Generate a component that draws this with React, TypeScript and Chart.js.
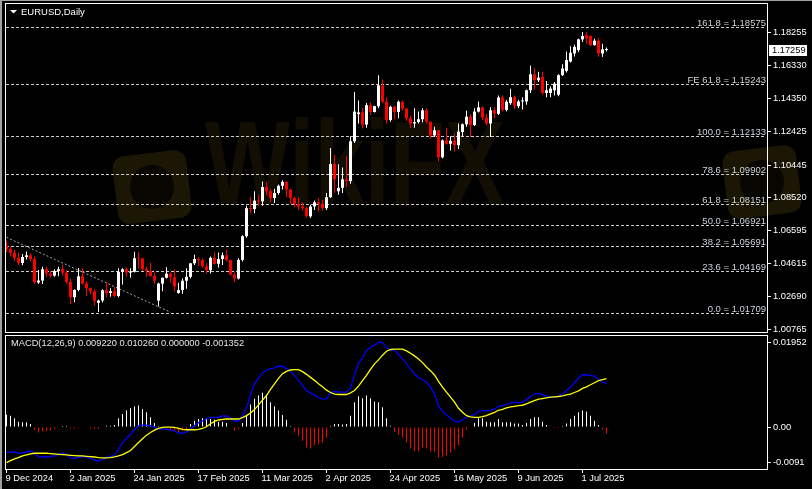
import React, { useEffect, useRef } from 'react';
import { Chart, registerables } from 'chart.js';

Chart.register(...registerables);

const FONT = "'Liberation Sans', Arial, sans-serif";

const SYMBOL = 'EURUSD';
const PERIOD = 'Daily';

const X_LABELS = ['9 Dec 2024', '2 Jan 2025', '24 Jan 2025', '17 Feb 2025', '11 Mar 2025', '2 Apr 2025', '24 Apr 2025', '16 May 2025', '9 Jun 2025', '1 Jul 2025'];
const X_LABEL_BARS = [0, 16, 32, 48, 64, 80, 96, 112, 128, 144];

const OPEN = [
  1.0568, 1.0550, 1.0527, 1.0497, 1.0467, 1.0502, 1.0512, 1.0490, 1.0352, 1.0363,
  1.0430, 1.0405, 1.0392, 1.0420, 1.0430, 1.0410, 1.0355, 1.0265, 1.0308, 1.0388,
  1.0345, 1.0318, 1.0300, 1.0232, 1.0245, 1.0306, 1.0290, 1.0300, 1.0272, 1.0415,
  1.0430, 1.0410, 1.0415, 1.0500, 1.0494, 1.0430, 1.0420, 1.0390, 1.0245, 1.0345,
  1.0380, 1.0404, 1.0383, 1.0290, 1.0307, 1.0362, 1.0385, 1.0465, 1.0490, 1.0483,
  1.0447, 1.0424, 1.0497, 1.0462, 1.0490, 1.0512, 1.0485, 1.0398, 1.0375, 1.0485,
  1.0625, 1.0790, 1.0785, 1.0835, 1.0830, 1.0915, 1.0890, 1.0850, 1.0880, 1.0922,
  1.0945, 1.0900, 1.0850, 1.0815, 1.0800, 1.0790, 1.0742, 1.0800, 1.0825, 1.0815,
  1.0790, 1.0855, 1.1050, 1.0890, 1.0910, 1.0960, 1.0950, 1.1185, 1.1345, 1.1355,
  1.1283, 1.1398, 1.1358, 1.1392, 1.1515, 1.1418, 1.1310, 1.1390, 1.1358, 1.1418,
  1.1378, 1.1320, 1.1290, 1.1298, 1.1315, 1.1368, 1.1300, 1.1220, 1.1250, 1.1090,
  1.1190, 1.1170, 1.1188, 1.1162, 1.1240, 1.1285, 1.1330, 1.1280, 1.1360, 1.1385,
  1.1325, 1.1290, 1.1368, 1.1347, 1.1443, 1.1370, 1.1410, 1.1445, 1.1392, 1.1420,
  1.1420, 1.1486, 1.1580, 1.1545, 1.1565, 1.1470, 1.1470, 1.1486, 1.1460, 1.1575,
  1.1600, 1.1655, 1.1703, 1.1723, 1.1786, 1.1811, 1.1806, 1.1752, 1.1778, 1.1703,
  1.1723,
];
const HIGH = [
  1.0600, 1.0563, 1.0545, 1.0528, 1.0520, 1.0535, 1.0525, 1.0505, 1.0425, 1.0445,
  1.0445, 1.0418, 1.0430, 1.0445, 1.0458, 1.0425, 1.0375, 1.0310, 1.0437, 1.0437,
  1.0360, 1.0322, 1.0312, 1.0250, 1.0312, 1.0353, 1.0318, 1.0323, 1.0435, 1.0435,
  1.0440, 1.0435, 1.0533, 1.0533, 1.0495, 1.0445, 1.0468, 1.0410, 1.0350, 1.0380,
  1.0442, 1.0410, 1.0430, 1.0350, 1.0375, 1.0435, 1.0465, 1.0515, 1.0500, 1.0495,
  1.0465, 1.0505, 1.0528, 1.0528, 1.0528, 1.0545, 1.0485, 1.0410, 1.0495, 1.0630,
  1.0805, 1.0855, 1.0890, 1.0870, 1.0947, 1.0945, 1.0905, 1.0905, 1.0930, 1.0955,
  1.0950, 1.0905, 1.0860, 1.0855, 1.0825, 1.0800, 1.0810, 1.0835, 1.0850, 1.0840,
  1.0880, 1.1145, 1.1105, 1.1050, 1.1030, 1.1100, 1.1215, 1.1475, 1.1425, 1.1383,
  1.1410, 1.1415, 1.1395, 1.1575, 1.1550, 1.1445, 1.1395, 1.1395, 1.1425, 1.1425,
  1.1380, 1.1335, 1.1380, 1.1360, 1.1380, 1.1380, 1.1300, 1.1270, 1.1250, 1.1195,
  1.1265, 1.1215, 1.1230, 1.1290, 1.1290, 1.1365, 1.1345, 1.1380, 1.1420, 1.1390,
  1.1345, 1.1385, 1.1385, 1.1455, 1.1455, 1.1430, 1.1495, 1.1455, 1.1430, 1.1445,
  1.1490, 1.1632, 1.1615, 1.1595, 1.1595, 1.1540, 1.1510, 1.1535, 1.1580, 1.1640,
  1.1715, 1.1745, 1.1755, 1.1790, 1.1830, 1.1830, 1.1810, 1.1790, 1.1795, 1.1760,
  1.1738,
];
const LOW = [
  1.0530, 1.0505, 1.0480, 1.0455, 1.0453, 1.0487, 1.0477, 1.0343, 1.0343, 1.0343,
  1.0385, 1.0380, 1.0385, 1.0388, 1.0395, 1.0345, 1.0225, 1.0235, 1.0300, 1.0340,
  1.0272, 1.0282, 1.0215, 1.0178, 1.0234, 1.0265, 1.0267, 1.0265, 1.0265, 1.0340,
  1.0385, 1.0380, 1.0410, 1.0435, 1.0420, 1.0385, 1.0385, 1.0345, 1.0210, 1.0300,
  1.0375, 1.0350, 1.0300, 1.0285, 1.0285, 1.0315, 1.0375, 1.0455, 1.0450, 1.0440,
  1.0405, 1.0405, 1.0460, 1.0440, 1.0455, 1.0475, 1.0395, 1.0355, 1.0370, 1.0475,
  1.0615, 1.0760, 1.0760, 1.0805, 1.0805, 1.0865, 1.0825, 1.0820, 1.0870, 1.0900,
  1.0855, 1.0815, 1.0795, 1.0780, 1.0775, 1.0735, 1.0732, 1.0780, 1.0770, 1.0775,
  1.0780, 1.0850, 1.0880, 1.0870, 1.0880, 1.0915, 1.0935, 1.1175, 1.1290, 1.1260,
  1.1265, 1.1340, 1.1355, 1.1380, 1.1410, 1.1290, 1.1300, 1.1315, 1.1320, 1.1365,
  1.1305, 1.1265, 1.1265, 1.1290, 1.1295, 1.1290, 1.1200, 1.1210, 1.1065, 1.1085,
  1.1165, 1.1130, 1.1125, 1.1140, 1.1210, 1.1270, 1.1210, 1.1275, 1.1355, 1.1310,
  1.1280, 1.1210, 1.1320, 1.1340, 1.1360, 1.1360, 1.1400, 1.1375, 1.1380, 1.1372,
  1.1400, 1.1470, 1.1490, 1.1535, 1.1460, 1.1445, 1.1445, 1.1455, 1.1450, 1.1570,
  1.1590, 1.1650, 1.1685, 1.1710, 1.1770, 1.1760, 1.1745, 1.1750, 1.1684, 1.1682,
  1.1714,
];
const CLOSE = [
  1.0550, 1.0527, 1.0497, 1.0467, 1.0502, 1.0512, 1.0490, 1.0352, 1.0363, 1.0430,
  1.0405, 1.0392, 1.0420, 1.0430, 1.0410, 1.0355, 1.0265, 1.0308, 1.0388, 1.0345,
  1.0318, 1.0300, 1.0243, 1.0245, 1.0306, 1.0290, 1.0300, 1.0272, 1.0415, 1.0430,
  1.0410, 1.0415, 1.0495, 1.0494, 1.0430, 1.0420, 1.0390, 1.0362, 1.0345, 1.0380,
  1.0404, 1.0383, 1.0328, 1.0307, 1.0362, 1.0385, 1.0465, 1.0490, 1.0483, 1.0447,
  1.0424, 1.0497, 1.0460, 1.0490, 1.0512, 1.0485, 1.0398, 1.0375, 1.0485, 1.0625,
  1.0790, 1.0785, 1.0835, 1.0830, 1.0915, 1.0890, 1.0850, 1.0880, 1.0922, 1.0945,
  1.0900, 1.0850, 1.0815, 1.0800, 1.0790, 1.0742, 1.0800, 1.0825, 1.0815, 1.0790,
  1.0855, 1.1050, 1.0960, 1.0910, 1.0960, 1.0950, 1.1185, 1.1360, 1.1355, 1.1283,
  1.1398, 1.1358, 1.1392, 1.1515, 1.1418, 1.1310, 1.1388, 1.1358, 1.1418, 1.1378,
  1.1320, 1.1290, 1.1298, 1.1315, 1.1368, 1.1300, 1.1220, 1.1250, 1.1090, 1.1190,
  1.1170, 1.1188, 1.1162, 1.1242, 1.1285, 1.1330, 1.1280, 1.1360, 1.1385, 1.1325,
  1.1290, 1.1368, 1.1347, 1.1443, 1.1370, 1.1418, 1.1445, 1.1395, 1.1420, 1.1422,
  1.1486, 1.1580, 1.1545, 1.1560, 1.1470, 1.1486, 1.1496, 1.1525, 1.1575, 1.1614,
  1.1664, 1.1707, 1.1742, 1.1786, 1.1806, 1.1792, 1.1752, 1.1778, 1.1703, 1.1727,
  1.17259,
];

const PRICE_TICKS = [1.18255, 1.1633, 1.1435, 1.12425, 1.10445, 1.0852, 1.06595, 1.04615, 1.0269, 1.00765];
const PRICE_MIN = 1.00537;
const PRICE_MAX = 1.20007;
const BAR_MIN = -0.375;
const BAR_MAX = 190.375;

const FIB_NAMES = ['161.8', 'FE 61.8', '100.0', '78.6', '61.8', '50.0', '38.2', '23.6', '0.0'];
const FIB_LEVELS = [1.18575, 1.15243, 1.12133, 1.09902, 1.08151, 1.06921, 1.05691, 1.04169, 1.01709];

const TREND_BARS = [0, 41];
const TREND_PRICES = [1.0618, 1.0176];

const MACD_MAIN = [
  -0.00541, -0.00527, -0.00534, -0.00555, -0.00548, -0.00527, -0.00506, -0.00562, -0.00627, -0.00634,
  -0.00634, -0.00627, -0.00612, -0.00577, -0.00555, -0.00584, -0.00655, -0.00662, -0.00641, -0.00627,
  -0.00634, -0.00662, -0.00698, -0.00719, -0.00684, -0.00641, -0.0062, -0.00598, -0.0047, -0.00328,
  -0.00242, -0.00157, -0.00057, 0.00028, 0.00043, 0.00043, 0.00028, 0.0, -0.00036, -0.00043,
  -0.00043, -0.00057, -0.00085, -0.00128, -0.00128, -0.001, -0.00043, 0.00028, 0.00093, 0.00128,
  0.00185, 0.00199, 0.00206, 0.00206, 0.00235, 0.00235, 0.00185, 0.00128, 0.00128, 0.00242,
  0.00413, 0.00684, 0.00918, 0.0104, 0.01153, 0.0121, 0.01232, 0.01253, 0.01289, 0.01289,
  0.01246, 0.01182, 0.01096, 0.0099, 0.00883, 0.00776, 0.00719, 0.00676, 0.00627, 0.00591,
  0.00598, 0.00726, 0.00755, 0.0074, 0.0074, 0.0074, 0.00826, 0.01111, 0.01346, 0.01474,
  0.01623, 0.01687, 0.01737, 0.01794, 0.01794, 0.0168, 0.01638, 0.0163, 0.01538, 0.01452,
  0.01346, 0.01232, 0.01125, 0.01047, 0.01004, 0.00954, 0.00847, 0.00705, 0.00441, 0.00342,
  0.00256, 0.00192, 0.00128, 0.00107, 0.00157, 0.00206, 0.00235, 0.00263, 0.00335, 0.00349,
  0.00349, 0.00356, 0.00384, 0.00441, 0.00456, 0.00484, 0.00513, 0.00527, 0.00513, 0.00527,
  0.00577, 0.00648, 0.00705, 0.00712, 0.00684, 0.00655, 0.00634, 0.00634, 0.00655, 0.00698,
  0.00776, 0.00847, 0.0094, 0.0104, 0.01111, 0.01104, 0.01096, 0.01082, 0.01011, 0.00954,
  0.00922,
];
const MACD_SIGNAL = [
  -0.00755, -0.00712, -0.00676, -0.00648, -0.00612, -0.00591, -0.0057, -0.00555, -0.00555, -0.00555,
  -0.00555, -0.00562, -0.0057, -0.00577, -0.00584, -0.00591, -0.00598, -0.00605, -0.00612, -0.00612,
  -0.0062, -0.00627, -0.00634, -0.00648, -0.00655, -0.00655, -0.00648, -0.00634, -0.00612, -0.00584,
  -0.00541, -0.00498, -0.00413, -0.00328, -0.00249, -0.00171, -0.00114, -0.00064, -0.00028, -0.00007,
  0.0, 0.0, -0.00007, -0.00028, -0.0005, -0.00057, -0.00057, -0.00057, -0.0005, -0.0003,
  0.00007, 0.00071, 0.00121, 0.0015, 0.00164, 0.00171, 0.00171, 0.00171, 0.00171, 0.00199,
  0.00242, 0.00299, 0.0037, 0.0047, 0.0057, 0.00669, 0.00797, 0.00918, 0.01032, 0.01132,
  0.01182, 0.0121, 0.01218, 0.01218, 0.01175, 0.01118, 0.01054, 0.0099, 0.00918, 0.00854,
  0.00783, 0.00733, 0.00698, 0.00691, 0.00691, 0.00691, 0.00726, 0.00776, 0.00869, 0.00983,
  0.01096, 0.01225, 0.01339, 0.01424, 0.01524, 0.01609, 0.01645, 0.01652, 0.01652, 0.01652,
  0.01616, 0.01566, 0.01509, 0.01445, 0.01367, 0.01274, 0.01196, 0.01104, 0.00968, 0.00847,
  0.0074, 0.00634, 0.00527, 0.00399, 0.00313, 0.00242, 0.00214, 0.00206, 0.00206, 0.00221,
  0.00242, 0.00278, 0.00313, 0.00356, 0.00377, 0.00406, 0.00427, 0.00441, 0.00456, 0.00463,
  0.00491, 0.00527, 0.00562, 0.00591, 0.00605, 0.00619, 0.00634, 0.00641, 0.00648, 0.00662,
  0.00684, 0.00698, 0.00733, 0.00769, 0.00819, 0.00854, 0.00897, 0.0094, 0.00983, 0.01004,
  0.01026,
];
const MACD_HIST = [
  0.00263, 0.00242, 0.00185, 0.00114, 0.001, 0.001, 0.00064, -0.00057, -0.00114, -0.00093,
  -0.00078, -0.00071, -0.00043, 0.0, 0.00014, 0.00014, -0.00028, -0.00028, -0.00014, 0.0,
  0.0, -0.00028, -0.00043, -0.00043, 0.0, 0.00028, 0.00028, 0.00043, 0.00185, 0.00278,
  0.00349, 0.00399, 0.00441, 0.00456, 0.00384, 0.00313, 0.00206, 0.00085, 0.00014, -0.00028,
  -0.00036, -0.00057, -0.00078, -0.00114, -0.00078, -0.00043, 0.00064, 0.00135, 0.00171, 0.00185,
  0.00171, 0.00171, 0.00157, 0.00114, 0.00114, 0.00085, 0.0, -0.00078, -0.00043, 0.00085,
  0.00242, 0.00477, 0.00598, 0.00669, 0.00726, 0.00691, 0.00527, 0.00441, 0.00349, 0.00256,
  0.00157, 0.00014, -0.00114, -0.00185, -0.00292, -0.00434, -0.00456, -0.00384, -0.00363, -0.00328,
  -0.00221, 0.00014, 0.00064, 0.00064, 0.00057, 0.00064, 0.00242, 0.00527, 0.00655, 0.00612,
  0.00669, 0.00612, 0.00541, 0.00527, 0.0042, 0.00185, 0.00028, -0.001, -0.00164, -0.00221,
  -0.00328, -0.00449, -0.00506, -0.00506, -0.00434, -0.00456, -0.0052, -0.00527, -0.00648, -0.00627,
  -0.00598, -0.00541, -0.0047, -0.00384, -0.00221, -0.00057, 0.0, 0.00085, 0.00185, 0.00185,
  0.00114, 0.001, 0.001, 0.00171, 0.001, 0.001, 0.001, 0.00078, 0.00078, 0.00043,
  0.00085, 0.00171, 0.00206, 0.00206, 0.00114, 0.00043, 0.0, -0.00014, -0.00014, 0.00014,
  0.00078, 0.00171, 0.00242, 0.00313, 0.00349, 0.00328, 0.00242, 0.00135, 0.00043, -0.00057,
  -0.001352,
];
const MACD_PARAMS = '12,26,9';
const MACD_MIN = -0.0091;
const MACD_MAX = 0.01952;
const MACD_TICKS = [0.01952, 0, -0.0091];
const MACD_TICK_LABELS = ['0.01952', '0.00', '-0.0091'];

const BULL = '#ffffff';
const BEAR = '#ff0000';

const candleColors = CLOSE.map((c, i) => (c >= OPEN[i] ? BULL : BEAR));

const noPad = (s: any) => {
  s.paddingTop = 0;
  s.paddingBottom = 0;
  s.paddingLeft = 0;
  s.paddingRight = 0;
};

const framePlugin = {
  id: 'frame',
  afterDraw(chart: any) {
    const { ctx, chartArea: a } = chart;
    ctx.save();
    ctx.strokeStyle = '#ffffff';
    ctx.lineWidth = 1;
    ctx.setLineDash([]);
    ctx.strokeRect(a.left + 0.5, a.top + 0.5, a.right - a.left - 1, a.bottom - a.top - 1);
    ctx.restore();
  },
};

const watermarkPlugin = {
  id: 'watermark',
  beforeDraw(chart: any) {
    const ctx = chart.ctx as CanvasRenderingContext2D;
    ctx.save();
    const logo = (cx: number, cy: number) => {
      ctx.save();
      ctx.translate(cx, cy);
      ctx.rotate(-0.12);
      ctx.fillStyle = '#1c1705';
      ctx.beginPath();
      (ctx as any).roundRect(-37, -34, 74, 68, 12);
      ctx.fill();
      ctx.fillStyle = '#080601';
      ctx.beginPath();
      ctx.arc(0, 0, 22, 0, Math.PI * 2);
      ctx.fill();
      ctx.restore();
    };
    logo(152, 187);
    logo(762, 182);
    ctx.font = `bold 120px ${FONT}`;
    const w = ctx.measureText('WikiFX').width;
    ctx.translate(205, 205);
    ctx.scale(300 / w, 1);
    ctx.fillStyle = '#120e03';
    ctx.textBaseline = 'alphabetic';
    ctx.fillText('WikiFX', 0, 0);
    ctx.restore();
  },
};

const fibPlugin = {
  id: 'fibo',
  beforeDatasetsDraw(chart: any) {
    const { ctx, chartArea: a, scales } = chart;
    const y = scales.y;
    ctx.save();
    ctx.lineWidth = 1;
    ctx.font = `9.5px ${FONT}`;
    ctx.textAlign = 'right';
    ctx.textBaseline = 'alphabetic';
    FIB_LEVELS.forEach((lv, k) => {
      const py = Math.round(y.getPixelForValue(lv)) + 0.5;
      ctx.strokeStyle = '#cccccc';
      ctx.setLineDash([3, 2]);
      ctx.beginPath();
      ctx.moveTo(a.left + 1, py);
      ctx.lineTo(a.right - 2, py);
      ctx.stroke();
      ctx.fillStyle = '#ccd3da';
      ctx.fillText(`${FIB_NAMES[k]} = ${lv.toFixed(5)}`, a.right - 2, py - 2);
    });
    ctx.restore();
  },
};

const mainOverlayPlugin = {
  id: 'mainOverlay',
  afterDraw(chart: any) {
    const { ctx, chartArea: a, scales } = chart;
    ctx.save();
    ctx.fillStyle = '#ffffff';
    ctx.beginPath();
    ctx.moveTo(10, 10);
    ctx.lineTo(17, 10);
    ctx.lineTo(13.5, 13.5);
    ctx.closePath();
    ctx.fill();
    ctx.font = `9.5px ${FONT}`;
    ctx.textAlign = 'left';
    ctx.textBaseline = 'middle';
    ctx.fillText(`${SYMBOL},${PERIOD}`, 21, 12);
    const last = CLOSE[CLOSE.length - 1];
    const py = Math.round(scales.y.getPixelForValue(last));
    ctx.fillStyle = '#ffffff';
    ctx.fillRect(a.right + 1, py - 5, 38, 11);
    ctx.fillStyle = '#000000';
    ctx.font = `9.3px ${FONT}`;
    ctx.fillText(last.toFixed(5), a.right + 4, py + 0.5);
    ctx.restore();
  },
};

const macdTitlePlugin = {
  id: 'macdTitle',
  afterDraw(chart: any) {
    const ctx = chart.ctx;
    const n = MACD_MAIN.length - 1;
    const h = MACD_HIST[n];
    const txt = `MACD(${MACD_PARAMS}) ${MACD_MAIN[n].toFixed(6)} ${MACD_SIGNAL[n].toFixed(6)} ${Math.max(h, 0).toFixed(6)} ${Math.min(h, 0).toFixed(6)}`;
    ctx.save();
    ctx.fillStyle = '#e4e8ec';
    ctx.font = `9.3px ${FONT}`;
    ctx.textAlign = 'left';
    ctx.textBaseline = 'middle';
    ctx.fillText(txt, 11, 9.5);
    ctx.restore();
  },
};

const tickFont = { family: FONT, size: 9.3 };

export default function App() {
  const mainRef = useRef<HTMLCanvasElement>(null);
  const macdRef = useRef<HTMLCanvasElement>(null);

  useEffect(() => {
    const main = new Chart(mainRef.current as HTMLCanvasElement, {
      type: 'bar',
      data: {
        datasets: [
          {
            type: 'line',
            data: TREND_BARS.map((b, k) => ({ x: b, y: TREND_PRICES[k] })),
            borderColor: '#a8a8a8',
            borderWidth: 1,
            borderDash: [2, 2],
            pointRadius: 0,
            tension: 0,
            fill: false,
            order: 3,
          } as any,
          {
            type: 'bar',
            data: LOW.map((l, i) => ({ x: i, y: [l, HIGH[i]] })),
            backgroundColor: candleColors,
            barThickness: 1,
            borderWidth: 0,
            inflateAmount: 0,
            grouped: false,
            order: 2,
          } as any,
          {
            type: 'bar',
            data: OPEN.map((o, i) => ({ x: i, y: [Math.min(o, CLOSE[i]), Math.max(o, CLOSE[i])] })),
            backgroundColor: candleColors,
            barThickness: 3,
            minBarLength: 1,
            borderWidth: 0,
            inflateAmount: 0,
            grouped: false,
            order: 1,
          } as any,
        ],
      },
      options: {
        animation: false,
        responsive: false,
        maintainAspectRatio: false,
        devicePixelRatio: 1,
        events: [],
        layout: { padding: { left: 5, top: 3, right: 0, bottom: 1 } },
        plugins: { legend: { display: false }, tooltip: { enabled: false } },
        scales: {
          x: {
            type: 'linear',
            min: BAR_MIN,
            max: BAR_MAX,
            offset: false,
            display: false,
            grid: { offset: false },
          },
          y: {
            type: 'linear',
            position: 'right',
            min: PRICE_MIN,
            max: PRICE_MAX,
            afterFit: (s: any) => {
              s.width = 44;
              noPad(s);
            },
            afterBuildTicks: (s: any) => {
              s.ticks = PRICE_TICKS.map((v) => ({ value: v }));
            },
            ticks: {
              color: '#ffffff',
              font: tickFont,
              padding: 2,
              autoSkip: false,
              callback: (v: any) => Number(v).toFixed(5),
            },
            grid: { drawOnChartArea: false, drawTicks: true, tickLength: 3, color: '#ffffff' },
            border: { display: false },
          },
        },
      } as any,
      plugins: [watermarkPlugin, fibPlugin, framePlugin, mainOverlayPlugin],
    });

    const macd = new Chart(macdRef.current as HTMLCanvasElement, {
      type: 'bar',
      data: {
        datasets: [
          {
            type: 'line',
            data: MACD_MAIN.map((v, i) => ({ x: i, y: v })),
            borderColor: '#0000ff',
            borderWidth: 1.3,
            pointRadius: 0,
            tension: 0,
            fill: false,
            order: 1,
          } as any,
          {
            type: 'line',
            data: MACD_SIGNAL.map((v, i) => ({ x: i, y: v })),
            borderColor: '#ffff00',
            borderWidth: 1.3,
            pointRadius: 0,
            tension: 0,
            fill: false,
            order: 0,
          } as any,
          {
            type: 'bar',
            data: MACD_HIST.map((v, i) => ({ x: i, y: v === 0 ? null : v })),
            backgroundColor: MACD_HIST.map((v) => (v >= 0 ? '#ffffff' : '#ff0000')),
            barThickness: 1,
            minBarLength: 1,
            borderWidth: 0,
            inflateAmount: 0,
            order: 2,
          } as any,
        ],
      },
      options: {
        animation: false,
        responsive: false,
        maintainAspectRatio: false,
        devicePixelRatio: 1,
        events: [],
        layout: { padding: { left: 5, top: 1, right: 0, bottom: 0 } },
        plugins: { legend: { display: false }, tooltip: { enabled: false } },
        scales: {
          x: {
            type: 'linear',
            position: 'bottom',
            min: BAR_MIN,
            max: BAR_MAX,
            offset: false,
            afterFit: (s: any) => {
              s.height = 19;
              noPad(s);
            },
            afterBuildTicks: (s: any) => {
              s.ticks = X_LABEL_BARS.map((v) => ({ value: v }));
            },
            ticks: {
              color: '#ffffff',
              font: tickFont,
              align: 'start',
              padding: 0,
              maxRotation: 0,
              minRotation: 0,
              autoSkip: false,
              labelOffset: -1,
              callback: (_v: any, idx: number) => X_LABELS[idx] ?? '',
            },
            grid: { drawOnChartArea: false, drawTicks: true, tickLength: 3, color: '#ffffff', offset: false },
            border: { display: false },
          },
          y: {
            type: 'linear',
            position: 'right',
            min: MACD_MIN,
            max: MACD_MAX,
            afterFit: (s: any) => {
              s.width = 44;
              noPad(s);
            },
            afterBuildTicks: (s: any) => {
              const inset = (MACD_MAX - MACD_MIN) * 0.053;
              s.ticks = MACD_TICKS.map((v) => ({
                value: Math.min(MACD_MAX - inset, Math.max(MACD_MIN + inset, v)),
              }));
            },
            ticks: {
              color: '#ffffff',
              font: tickFont,
              padding: 2,
              autoSkip: false,
              callback: (_v: any, idx: number) => MACD_TICK_LABELS[idx] ?? '',
            },
            grid: { drawOnChartArea: false, drawTicks: true, tickLength: 3, color: '#ffffff' },
            border: { display: false },
          },
        },
      } as any,
      plugins: [framePlugin, macdTitlePlugin],
    });

    return () => {
      main.destroy();
      macd.destroy();
    };
  }, []);

  return (
    <div
      style={{
        position: 'fixed',
        left: 0,
        top: 0,
        width: 812,
        height: 489,
        background: '#000000',
        overflow: 'hidden',
      }}
    >
      <canvas
        ref={mainRef}
        width={812}
        height={334}
        style={{ position: 'absolute', left: 0, top: 0, width: 812, height: 334 }}
      />
      <canvas
        ref={macdRef}
        width={812}
        height={155}
        style={{ position: 'absolute', left: 0, top: 334, width: 812, height: 155 }}
      />
      <div style={{ position: 'absolute', left: 0, top: 0, width: 2, height: 489, background: '#a0a0a0' }} />
      <div style={{ position: 'absolute', left: 0, top: 0, width: 812, height: 1, background: '#a0a0a0' }} />
    </div>
  );
}
